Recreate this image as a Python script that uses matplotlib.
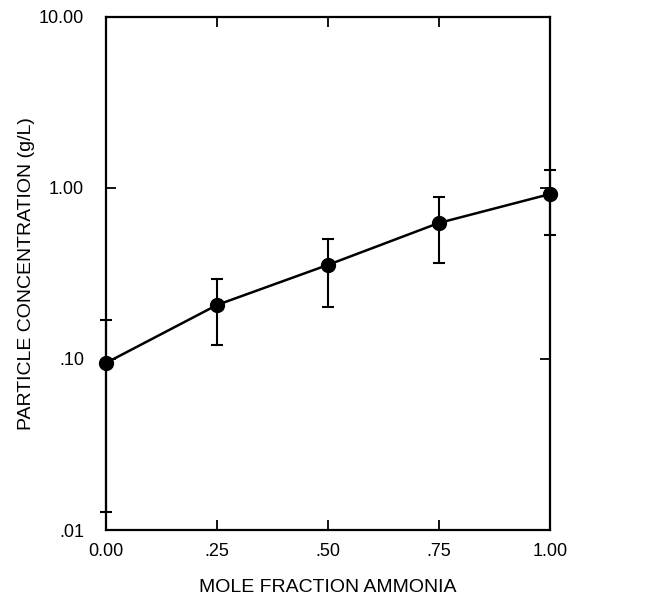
import numpy as np
import matplotlib
matplotlib.use("Agg")
import matplotlib.pyplot as plt

plt.rcParams['font.family'] = ['Liberation Sans', 'DejaVu Sans']

mole_fraction = [0.00, 0.25, 0.50, 0.75, 1.00]
concentration = [0.095, 0.207, 0.355, 0.624, 0.92]
err_low = [0.0127, 0.121, 0.201, 0.364, 0.53]
err_high = [0.169, 0.294, 0.503, 0.886, 1.27]

x_ticks = [0.0, 0.25, 0.5, 0.75, 1.0]
x_labels = ['0.00', '.25', '.50', '.75', '1.00']
y_ticks = [0.01, 0.1, 1.0, 10.0]
y_labels = ['.01', '.10', '1.00', '10.00']

fig = plt.figure(figsize=(6.56, 6.03), dpi=100)
ax = fig.add_axes([0.162, 0.121, 0.676, 0.851])

conc = np.array(concentration)
yerr = [conc - np.array(err_low), np.array(err_high) - conc]

ax.plot(mole_fraction, concentration, color='black', lw=1.8, zorder=3)
ax.errorbar(mole_fraction, concentration, yerr=yerr, fmt='o', color='black',
            ms=10, elinewidth=1.5, capsize=4, capthick=1.5, zorder=4,
            clip_on=False)

ax.set_yscale('log')
ax.set_xlim(0, 1)
ax.set_ylim(0.01, 10)
ax.set_xticks(x_ticks)
ax.set_xticklabels(x_labels)
ax.set_yticks(y_ticks)
ax.set_yticklabels(y_labels)
ax.yaxis.set_minor_locator(matplotlib.ticker.NullLocator())

ax.tick_params(axis='both', direction='in', length=7, width=1.3,
               top=True, right=True, labelsize=13)
ax.tick_params(axis='x', pad=9)
ax.tick_params(axis='y', pad=16)
for s in ax.spines.values():
    s.set_linewidth(1.6)

ax.set_xlabel('MOLE FRACTION AMMONIA', fontsize=14, labelpad=14)
ax.set_ylabel('PARTICLE CONCENTRATION (g/L)', fontsize=14, labelpad=3)

fig.savefig('out.png', dpi=100)
